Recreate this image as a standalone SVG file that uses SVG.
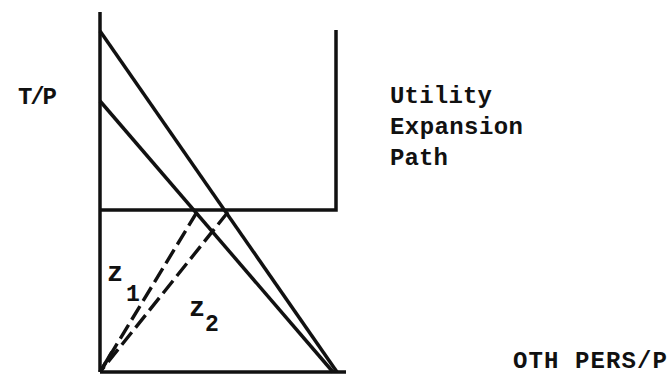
<svg xmlns="http://www.w3.org/2000/svg" width="671" height="374" viewBox="0 0 671 374">
<style>
.ln{stroke:#111;stroke-width:3.5;fill:none;stroke-linecap:butt}
.ds{stroke:#111;stroke-width:3.4;fill:none;stroke-dasharray:16 6}
.t{font-family:"Liberation Mono","Courier New",monospace;font-weight:bold;fill:#111}
</style>
<rect width="671" height="374" fill="#fff"/>
<g id="connectors">
<line class="ln" x1="100" y1="12" x2="100" y2="372"/>
<line class="ln" x1="100" y1="372" x2="346" y2="372"/>
<polyline class="ln" points="100,210 336,210 336,30"/>
<line class="ln" x1="100" y1="31" x2="337" y2="372"/>
<line class="ln" x1="100" y1="101" x2="333" y2="372"/>
<line class="ds" x1="197" y1="212" x2="100" y2="372"/>
<line class="ds" x1="228" y1="212" x2="100" y2="372"/>
<line class="ln" x1="100" y1="372" x2="112" y2="352" stroke-width="5"/>
</g>
<g id="label-tp"><text class="t" x="18" y="104" font-size="24" textLength="39">T/P</text></g>
<g id="label-utility">
<text class="t" x="390" y="103" font-size="24" textLength="102">Utility</text>
<text class="t" x="390" y="134" font-size="24" textLength="133">Expansion</text>
<text class="t" x="390" y="165" font-size="24" textLength="58">Path</text>
</g>
<g id="label-oth"><text class="t" x="513" y="368" font-size="24" textLength="154">OTH PERS/P</text></g>
<g id="label-z1"><text class="t" x="107" y="281" font-size="27">z</text><text class="t" x="126" y="301" font-size="23">1</text></g>
<g id="label-z2"><text class="t" x="189" y="316" font-size="27">z</text><text class="t" x="205" y="331" font-size="23">2</text></g>
</svg>
